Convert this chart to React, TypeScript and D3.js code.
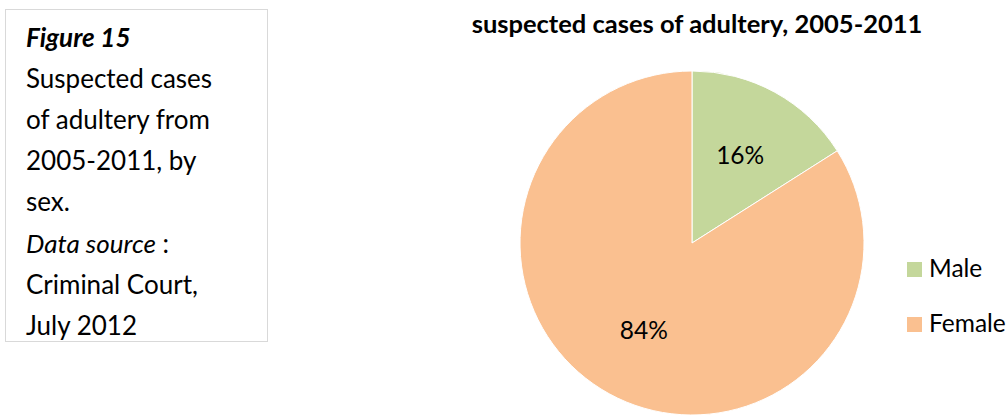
import React, { useEffect, useRef } from "react";
import * as d3 from "d3";

const categories = ["Male", "Female"];
const shares = [16, 84];
const colors = ["#C4D79B", "#FAC090"];
const noteLines = [
  { text: "Figure 15", style: "italic", weight: "bold" },
  { text: "Suspected cases", style: "normal", weight: "normal" },
  { text: "of adultery from", style: "normal", weight: "normal" },
  { text: "2005-2011, by", style: "normal", weight: "normal" },
  { text: "sex.", style: "normal", weight: "normal" },
  { text: "Data source", style: "italic", weight: "normal", tail: " :" },
  { text: "Criminal Court,", style: "normal", weight: "normal" },
  { text: "July 2012", style: "normal", weight: "normal" },
];
const chartTitle = "suspected cases of adultery, 2005-2011";

const W = 1008;
const H = 415;
const FONT = "Lato, Carlito, Calibri, 'Open Sans', sans-serif";

export default function App() {
  const ref = useRef<SVGSVGElement>(null);

  useEffect(() => {
    const svg = d3.select(ref.current);
    svg.selectAll("*").remove();

    // left text box
    svg
      .append("rect")
      .attr("x", 5.5)
      .attr("y", 9.5)
      .attr("width", 262)
      .attr("height", 332)
      .attr("fill", "#fff")
      .attr("stroke", "#d9d9d9");

    const note = svg
      .append("g")
      .attr("font-family", FONT)
      .attr("font-size", 26)
      .attr("fill", "#000");
    noteLines.forEach((l, i) => {
      const t = note
        .append("text")
        .attr("x", 26)
        .attr("y", 47 + i * 41.1);
      t.append("tspan")
        .attr("font-style", l.style)
        .attr("font-weight", l.weight)
        .text(l.text);
      if (l.tail) t.append("tspan").text(l.tail);
    });

    // pie
    const cx = 692;
    const cy = 243;
    const R = 172;

    svg
      .append("text")
      .attr("x", 697)
      .attr("y", 33)
      .attr("text-anchor", "middle")
      .attr("font-family", FONT)
      .attr("font-weight", "bold")
      .attr("font-size", 25.5)
      .text(chartTitle);

    const pie = d3
      .pie<number>()
      .sort(null)
      .value(d => d);
    const arcs = pie(shares);
    const arc = d3.arc<d3.PieArcDatum<number>>().innerRadius(0).outerRadius(R);
    const labelArc = d3
      .arc<d3.PieArcDatum<number>>()
      .innerRadius(100)
      .outerRadius(100);

    const g = svg.append("g").attr("transform", `translate(${cx},${cy})`);
    g.selectAll("path")
      .data(arcs)
      .join("path")
      .attr("d", arc)
      .attr("fill", (d, i) => colors[i])
      .attr("stroke", "#fff")
      .attr("stroke-width", 1);

    g.selectAll("text")
      .data(arcs)
      .join("text")
      .attr("transform", d => `translate(${labelArc.centroid(d)})`)
      .attr("text-anchor", "middle")
      .attr("dy", "0.35em")
      .attr("font-family", FONT)
      .attr("font-size", 24.5)
      .attr("fill", "#000")
      .text(d => `${d.data}%`);

    // legend
    const lg = svg
      .append("g")
      .selectAll("g")
      .data(categories)
      .join("g")
      .attr("transform", (d, i) => `translate(907,${262 + i * 55})`);
    lg.append("rect")
      .attr("width", 15)
      .attr("height", 15)
      .attr("fill", (d, i) => colors[i]);
    lg.append("text")
      .attr("x", 22)
      .attr("y", 15)
      .attr("font-family", FONT)
      .attr("font-size", 24.5)
      .text(d => d);
  }, []);

  return (
    <svg
      ref={ref}
      width={W}
      height={H}
      style={{ position: "absolute", left: 0, top: 0, background: "#fff" }}
    />
  );
}
